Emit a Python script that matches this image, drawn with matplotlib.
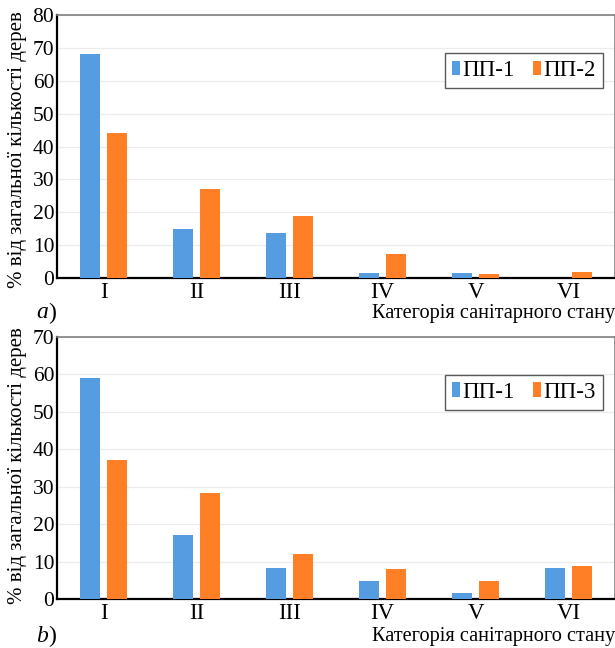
import matplotlib
matplotlib.use("Agg")
import matplotlib.pyplot as plt
import numpy as np

categories = ["I", "II", "III", "IV", "V", "VI"]
pp1_a = [68, 15, 13.6, 1.6, 1.6, 0]
pp2_a = [44, 27, 18.8, 7.3, 1.1, 1.9]
pp1_b = [59, 17.1, 8.4, 4.9, 1.6, 8.4]
pp3_b = [37, 28.4, 12.0, 8.0, 4.9, 9.0]

BLUE = "#559DE0"
ORANGE = "#FF7F27"
plt.rcParams['font.family'] = ['Liberation Serif', 'DejaVu Serif']

fig = plt.figure(figsize=(6.15, 6.48), dpi=100)

def panel(rect, s1, s2, l1, l2, ymax, letter, ylab_y, xlab_top, letter_y):
    ax = fig.add_axes(rect)
    x = np.arange(len(categories))
    w = 0.215
    ax.bar(x - 0.14, s1, w, color=BLUE, label=l1, zorder=3)
    ax.bar(x + 0.14, s2, w, color=ORANGE, label=l2, zorder=3)
    ax.set_xlim(-0.5, 5.5)
    ax.set_ylim(0, ymax)
    ax.set_yticks(np.arange(0, ymax + 1, 10))
    ax.set_xticks(x)
    ax.set_xticklabels(categories, fontsize=16.5)
    ax.tick_params(axis='y', labelsize=15.5, length=0, pad=2)
    ax.tick_params(axis='x', length=0, pad=3)
    ax.grid(axis='y', color='#ececec', linewidth=0.9, zorder=0)
    for s in ['left', 'bottom']:
        ax.spines[s].set_color('black')
        ax.spines[s].set_linewidth(1.6)
    for s in ['top', 'right']:
        ax.spines[s].set_color('#808080')
        ax.spines[s].set_linewidth(1.2)
    leg = ax.legend(loc='upper right', bbox_to_anchor=(0.978, 0.855), ncol=2,
                    fontsize=16.5, frameon=True, fancybox=False,
                    handlelength=0.35, handleheight=0.6, handletextpad=0.1,
                    columnspacing=0.8, borderpad=0.3, borderaxespad=0.0)
    leg.get_frame().set_edgecolor('#303030')
    leg.get_frame().set_linewidth(1.0)
    fig.text(18 / 615, ylab_y, "% від загальної кількості дерев", rotation=90,
             ha='center', va='center', fontsize=15)
    fig.text(1.0, xlab_top, "Категорія санітарного стану", ha='right', va='top',
             fontsize=14.6)
    fig.text(48 / 615, letter_y, letter[0], ha='right', va='center', fontsize=17,
             style='italic')
    fig.text(48 / 615, letter_y, ")", ha='left', va='center', fontsize=17)
    return ax

panel([57 / 615, 1 - 278 / 648, 1 - 57 / 615, 263 / 648], pp1_a, pp2_a,
      "ПП-1", "ПП-2", 80, "a)", 1 - 150 / 648, 1 - 304 / 648, 1 - 313 / 648)
panel([57 / 615, 1 - 599.3 / 648, 1 - 57 / 615, 262.6 / 648], pp1_b, pp3_b,
      "ПП-1", "ПП-3", 70, "b)", 1 - 466 / 648, 1 - 627 / 648, 1 - 636 / 648)

fig.savefig("out.png", dpi=100)
